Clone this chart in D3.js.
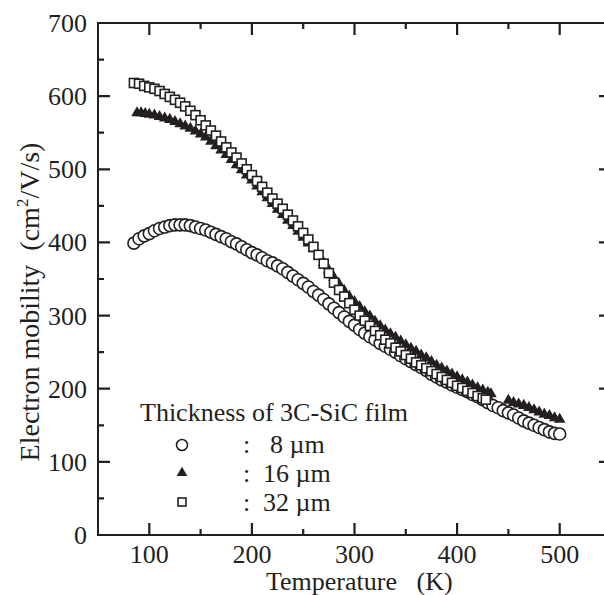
<!DOCTYPE html>
<html>
<head>
<meta charset="utf-8">
<script src="https://cdn.jsdelivr.net/npm/d3@7"></script>
<style>
  html, body { margin: 0; padding: 0; background: #fff; }
  svg { display: block; }
  text { font-family: "Liberation Serif", "Times New Roman", serif; fill: #231f20; }
</style>
</head>
<body>
<svg id="chart" width="604" height="595"></svg>
<script>
// Hall electron mobility of 3C-SiC films versus temperature, three film thicknesses

const tempTicks = [100, 200, 300, 400, 500];
const mobilityTicks = [0, 100, 200, 300, 400, 500, 600, 700];

// 8 µm film
const temp8 = [85, 90, 95, 100, 105, 110, 115, 120, 125, 130, 135, 140, 145, 150, 155, 160, 165, 170, 175, 180,
  185, 190, 195, 200, 205, 210, 215, 220, 225, 230, 235, 240, 245, 250, 255, 260, 265, 270, 275, 280,
  285, 290, 295, 300, 305, 310, 315, 320, 325, 330, 335, 340, 345, 350, 355, 360, 365, 370, 375, 380,
  385, 390, 395, 400, 405, 410, 415, 420, 425, 430, 435, 440, 445, 450, 455, 460, 465, 470, 475, 480,
  485, 490, 495, 500];
const mob8 = [399, 405, 409, 412, 416, 419, 421, 423, 424, 424, 424, 423, 421, 419, 417, 414, 411, 408, 405, 401,
  398, 394, 390, 386, 383, 379, 375, 372, 368, 364, 359, 354, 349, 344, 339, 333, 328, 322, 316, 310,
  304, 298, 292, 287, 281, 276, 271, 267, 262, 258, 254, 250, 245, 241, 237, 233, 229, 225, 220, 216,
  212, 209, 205, 202, 199, 196, 192, 189, 185, 181, 177, 174, 170, 167, 164, 160, 156, 153, 150, 147,
  144, 141, 139, 138];

// 16 µm film
const temp16 = [88, 92, 96, 100, 105, 110, 115, 120, 125, 130, 135, 140, 145, 150, 155, 160, 165, 170, 175, 180,
  185, 190, 195, 200, 205, 210, 215, 220, 225, 230, 235, 240, 245, 250, 255, 260, 265, 270, 275, 280,
  285, 290, 295, 300, 305, 310, 315, 320, 325, 330, 335, 340, 345, 350, 355, 360, 365, 370, 375, 380,
  385, 390, 395, 400, 405, 410, 415, 420, 425, 430, 433,
  450, 455, 460, 465, 470, 475, 480, 485, 490, 495, 500];
const mob16 = [577, 577, 576, 575, 574, 572, 570, 568, 565, 562, 559, 556, 552, 548, 544, 538, 532, 526, 520, 513,
  506, 499, 492, 485, 477, 469, 461, 453, 445, 438, 430, 423, 415, 407, 399, 391, 381, 372, 362, 352,
  343, 334, 326, 319, 312, 305, 299, 292, 286, 280, 275, 270, 265, 260, 255, 251, 246, 242, 237, 232,
  228, 224, 220, 216, 212, 209, 205, 201, 198, 195, 193,
  184, 181, 179, 177, 174, 171, 168, 165, 163, 160, 158];

// 32 µm film
const temp32 = [85, 90, 95, 100, 105, 110, 115, 120, 125, 130, 135, 140, 145, 150, 155, 160, 165, 170, 175, 180,
  185, 190, 195, 200, 205, 210, 215, 220, 225, 230, 235, 240, 245, 250, 255, 260, 265, 270, 275, 280,
  285, 290, 295, 300, 305, 310, 315, 320, 325, 330, 335, 340, 345, 350, 355, 360, 365, 370, 375, 380,
  385, 390, 395, 400, 405, 410, 415, 420, 425, 428];
const mob32 = [618, 617, 614, 612, 610, 607, 603, 599, 595, 591, 586, 580, 574, 567, 560, 553, 546, 538, 530, 523,
  516, 508, 500, 492, 484, 476, 468, 460, 453, 446, 438, 430, 422, 413, 404, 394, 383, 371, 358, 345,
  335, 326, 317, 308, 300, 293, 286, 279, 273, 267, 262, 256, 251, 246, 241, 236, 232, 228, 224, 220,
  216, 212, 208, 204, 201, 197, 194, 190, 187, 185];

const legendTitle = "Thickness of 3C-SiC film";
const legendLabels = ["8 µm", "16 µm", "32 µm"];

const ink = "#231f20";
const fs = 26;
const svg = d3.select("#chart");
const plotLeft = 98, plotRight = 611, plotTop = 23, plotBottom = 535;

const xScale = d3.scaleLinear().domain([50, 550]).range([plotLeft, plotRight]);
const yScale = d3.scaleLinear().domain([0, 700]).range([plotBottom, plotTop]);

const minorT = [150, 250, 350, 450];
const minorM = [50, 150, 250, 350, 450, 550, 650];

// inward ticks on all four sides, built as one path
const tickPath = d3.path();
function addXTicks(vals, len) {
  vals.forEach(v => {
    const px = xScale(v);
    tickPath.moveTo(px, plotBottom); tickPath.lineTo(px, plotBottom - len);
    tickPath.moveTo(px, plotTop); tickPath.lineTo(px, plotTop + len);
  });
}
function addYTicks(vals, len) {
  vals.forEach(v => {
    const py = yScale(v);
    tickPath.moveTo(plotLeft, py); tickPath.lineTo(plotLeft + len, py);
    tickPath.moveTo(plotRight, py); tickPath.lineTo(plotRight - len, py);
  });
}
addXTicks(tempTicks, 12);
addXTicks(minorT, 6);
addYTicks(mobilityTicks, 12);
addYTicks(minorM, 6);

svg.append("path").attr("d", tickPath.toString())
  .attr("fill", "none").attr("stroke", ink).attr("stroke-width", 2.2);

// frame
svg.append("rect").attr("x", plotLeft).attr("y", plotTop)
  .attr("width", plotRight - plotLeft).attr("height", plotBottom - plotTop)
  .attr("fill", "none").attr("stroke", ink).attr("stroke-width", 2);

// tick labels
svg.append("g").selectAll("text").data(tempTicks).join("text")
  .attr("x", d => xScale(d)).attr("y", plotBottom + 28)
  .attr("text-anchor", "middle").attr("font-size", fs).text(d => d);
svg.append("g").selectAll("text").data(mobilityTicks).join("text")
  .attr("x", plotLeft - 11).attr("y", d => yScale(d) + 9)
  .attr("text-anchor", "end").attr("font-size", fs).text(d => d);

// axis titles
svg.append("text").attr("x", 266).attr("y", 590).attr("text-anchor", "start")
  .attr("font-size", fs).attr("xml:space", "preserve").text("Temperature   (K)");
const yt = svg.append("text").attr("transform", "translate(39,302) rotate(-90)")
  .attr("text-anchor", "middle").attr("font-size", 28).attr("xml:space", "preserve");
yt.append("tspan").text("Electron mobility  (cm");
yt.append("tspan").attr("font-size", 17).attr("dy", -11).text("2");
yt.append("tspan").attr("dy", 11).text("/V/s)");

// markers
const tri = d3.symbol(d3.symbolTriangle, 58);
const sq = 9;

const pts8 = temp8.map((t, i) => [t, mob8[i]]);
const pts16 = temp16.map((t, i) => [t, mob16[i]]);
const pts32 = temp32.map((t, i) => [t, mob32[i]]);

svg.append("g").selectAll("circle").data(pts8).join("circle")
  .attr("cx", d => xScale(d[0])).attr("cy", d => yScale(d[1])).attr("r", 6)
  .attr("fill", "#fff").attr("stroke", ink).attr("stroke-width", 1.6);

svg.append("g").selectAll("path").data(pts16).join("path")
  .attr("d", tri).attr("transform", d => `translate(${xScale(d[0])},${yScale(d[1])})`)
  .attr("fill", ink);

svg.append("g").selectAll("rect").data(pts32).join("rect")
  .attr("x", d => xScale(d[0]) - sq / 2).attr("y", d => yScale(d[1]) - sq / 2)
  .attr("width", sq).attr("height", sq)
  .attr("fill", "#fff").attr("stroke", ink).attr("stroke-width", 1.6);

// legend
const lg = svg.append("g");
lg.append("text").attr("x", 140).attr("y", 421).attr("font-size", fs).text(legendTitle);
const rowY = [453, 482, 511];
const symX = 182;
lg.append("circle").attr("cx", symX).attr("cy", rowY[0] - 8).attr("r", 5.5)
  .attr("fill", "#fff").attr("stroke", ink).attr("stroke-width", 1.6);
lg.append("path").attr("d", d3.symbol(d3.symbolTriangle, 50)())
  .attr("transform", `translate(${symX},${rowY[1] - 9})`).attr("fill", ink);
lg.append("rect").attr("x", symX - 4).attr("y", rowY[2] - 13).attr("width", 8).attr("height", 8)
  .attr("fill", "#fff").attr("stroke", ink).attr("stroke-width", 1.6);
legendLabels.forEach((lab, i) => {
  lg.append("text").attr("x", 243).attr("y", rowY[i]).attr("font-size", fs).text(":");
  lg.append("text").attr("x", i === 0 ? 270 : 263).attr("y", rowY[i]).attr("font-size", fs).text(lab);
});
</script>
</body>
</html>
